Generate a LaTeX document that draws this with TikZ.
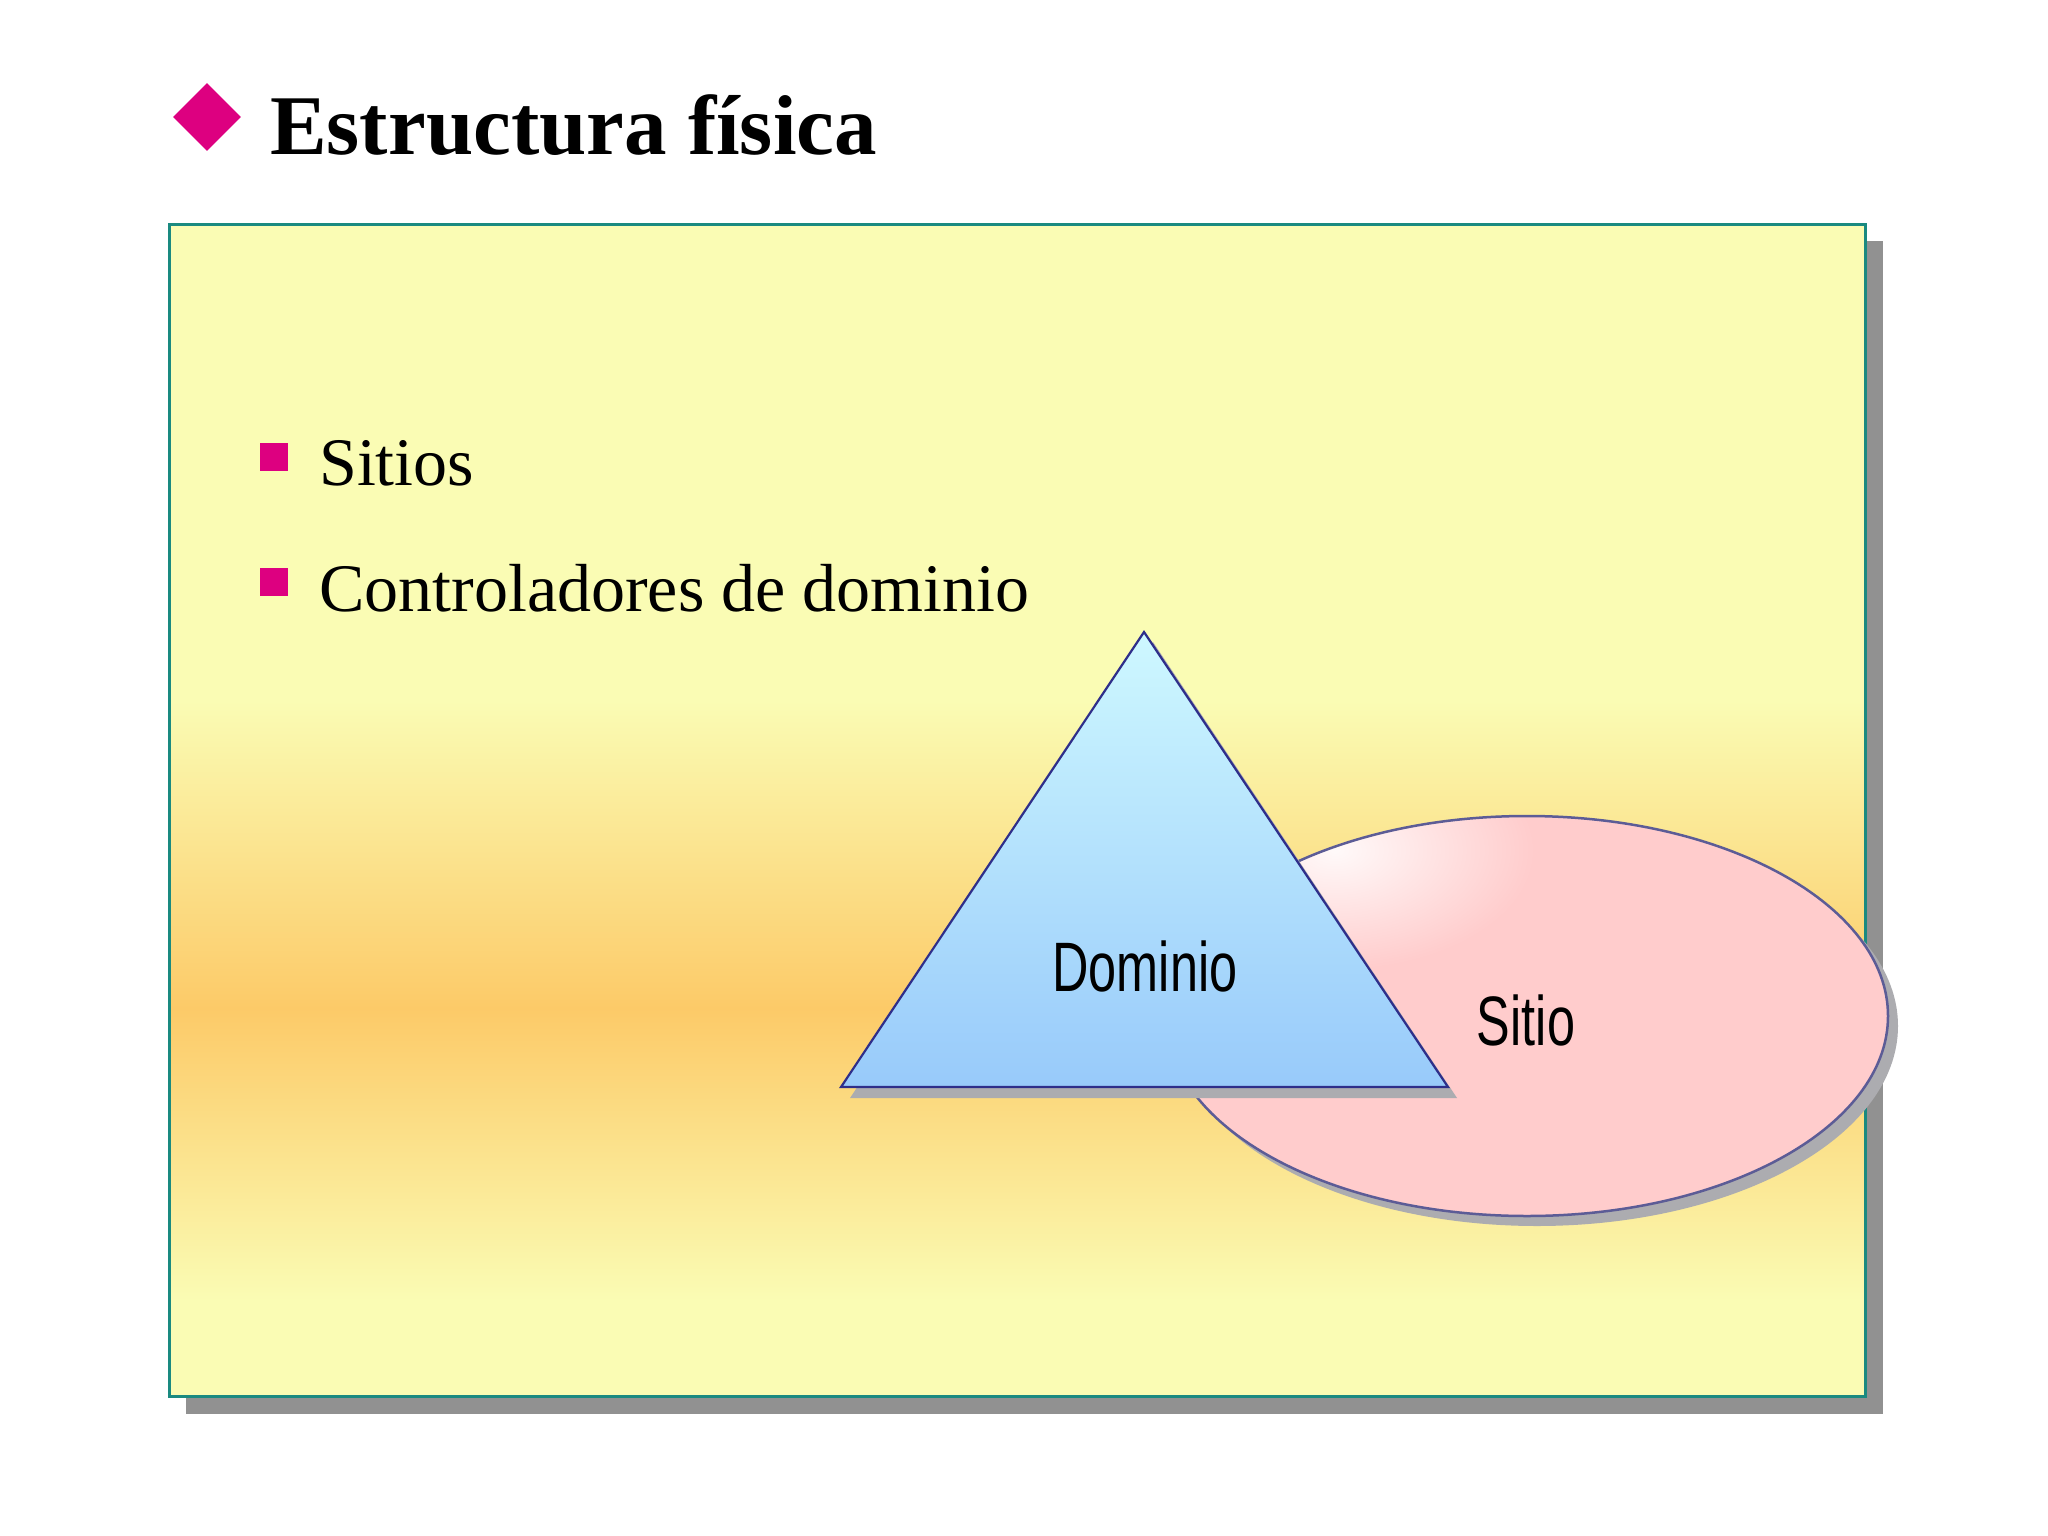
\documentclass[tikz,border=0pt]{standalone}
\usepackage{fontspec}
\setmainfont{Liberation Serif}
\newfontfamily\labelfont[FakeStretch=0.72]{Liberation Sans}
\usetikzlibrary{fadings,shapes.geometric}
\definecolor{pale}{RGB}{250,252,180}
\definecolor{orangepk}{RGB}{252,202,104}
\definecolor{teal2}{RGB}{26,138,128}
\definecolor{boxshadow}{RGB}{145,145,145}
\definecolor{shapeshadow}{RGB}{172,172,176}
\definecolor{magentab}{RGB}{221,0,128}
\definecolor{tritop}{RGB}{206,248,255}
\definecolor{tribot}{RGB}{152,202,250}
\definecolor{trioutline}{RGB}{46,46,138}
\definecolor{pinkfill}{RGB}{255,204,204}
\definecolor{elloutline}{RGB}{92,92,150}
\tikzfading[name=hlr, inner color=transparent!0, outer color=transparent!100]
\tikzset{
  bulletsq/.style={rectangle, fill=magentab, minimum size=28pt, inner sep=0pt},
  bodytext/.style={anchor=base west, inner sep=0pt, font=\fontsize{68}{80}\selectfont},
  shapelabel/.style={anchor=base, inner sep=0pt, font=\labelfont\fontsize{70}{80}\selectfont},
}
\begin{document}
\begin{tikzpicture}[x=1pt,y=-1pt]
\useasboundingbox (0,0) rectangle (2048,1536);
\fill[white] (0,0) rectangle (2048,1536);
% title
\node[diamond, fill=magentab, inner sep=0pt, minimum width=68pt, minimum height=68pt] (dia) at (207,117) {};
\node[anchor=base west, inner sep=0pt, font=\bfseries\fontsize{85}{96}\selectfont] (title) at (270,154) {Estructura física};
% box shadow and box
\fill[boxshadow] (186,241) rectangle (1883,1414);
\fill[pale] (169,224) rectangle (1865,701);
\shade[top color=pale, bottom color=orangepk] (169,700) rectangle (1865,1009);
\shade[top color=orangepk, bottom color=pale] (169,1008) rectangle (1865,1301);
\fill[pale] (169,1300) rectangle (1865,1396);
\draw[teal2, line width=3pt] (169,224) rectangle (1865,1396);
% bullets
\node[bulletsq] (b1) at (274,457) {};
\node[bulletsq] (b2) at (274,582) {};
\node[bodytext] (t1) at (319,485) {Sitios};
\node[bodytext] (t2) at (319,611) {Controladores de dominio};
% ellipse
\fill[shapeshadow] (1537,1026) ellipse [x radius=361, y radius=200];
\fill[pinkfill] (1527,1016) ellipse [x radius=361, y radius=200];
\begin{scope}
\clip (1527,1016) ellipse [x radius=361, y radius=200];
\fill[white, opacity=0.9, path fading=hlr] (1335,850) ellipse [x radius=200, y radius=120];
\end{scope}
\draw[elloutline, line width=2.5pt] (1527,1016) ellipse [x radius=361, y radius=200];
% triangle
\fill[shapeshadow] (1153,642) -- (1457,1098) -- (850,1098) -- cycle;
\shade[top color=tritop, bottom color=tribot] (1144,632) -- (1448,1087) -- (841,1087) -- cycle;
\draw[trioutline, line width=2.2pt, line join=miter] (1144,632) -- (1448,1087) -- (841,1087) -- cycle;
% labels
\node[shapelabel] (dom) at (1145,991) {Dominio};
\node[shapelabel] (sit) at (1526,1045) {Sitio};
\end{tikzpicture}
\end{document}
